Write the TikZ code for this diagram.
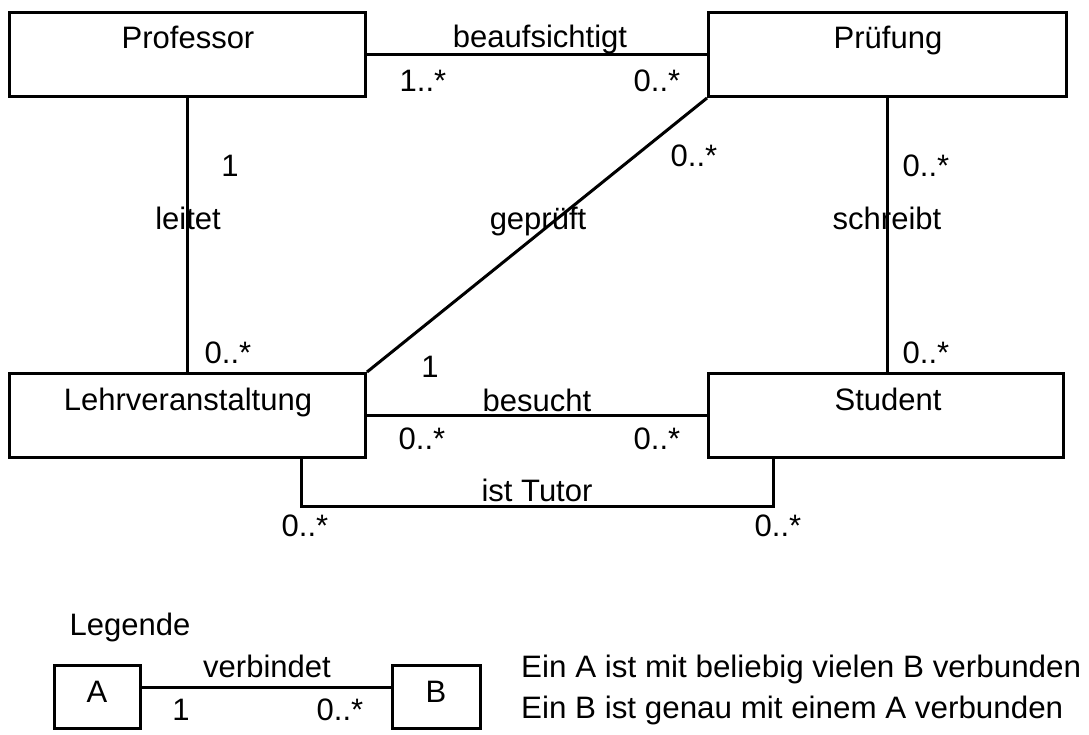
\documentclass[tikz,border=0pt]{standalone}
\usepackage{fontspec}
\setmainfont{Liberation Sans}
\begin{document}
\begin{tikzpicture}[x=1pt,y=-1pt,
  box/.style={draw, line width=3pt, inner sep=0pt},
  txt/.style={anchor=base, inner sep=0pt, font=\fontsize{31}{37}\selectfont},
  conn/.style={line width=3pt}]
\useasboundingbox (0,0) rectangle (1089,734);
% classes
\node[box, minimum width=356pt, minimum height=84pt] (prof) at (187.5,54.5) {};
\node[box, minimum width=358pt, minimum height=84pt] (pruef) at (887.5,54.5) {};
\node[box, minimum width=356pt, minimum height=84pt] (lehr) at (187.5,415.5) {};
\node[box, minimum width=355pt, minimum height=84pt] (stud) at (886,415.5) {};
\node[txt] (profT) at (188,48) {Professor};
\node[txt] (pruefT) at (888,48) {Prüfung};
\node[txt] (lehrT) at (188,410) {Lehrveranstaltung};
\node[txt] (studT) at (888,410) {Student};
% connectors
\draw[conn] (prof.east) -- (pruef.west);
\draw[conn] (prof.south) -- (prof.south |- lehr.north);
\draw[conn] (pruef.south west) -- (lehr.north east);
\draw[conn] (pruef.south) -- (pruef.south |- stud.north);
\draw[conn] (lehr.east) -- (stud.west);
\coordinate (tutL) at (301,506);
\coordinate (tutR) at (773,506);
\draw[conn] (lehr.south -| tutL) -- (tutL) -- (tutR) -- (stud.south -| tutR);
% labels
\node[txt] (l1) at (540,47) {beaufsichtigt};
\node[txt] (m1) at (423,91) {1..*};
\node[txt] (m2) at (657,91) {0..*};
\node[txt] (m3) at (230,176) {1};
\node[txt] (l2) at (188,229) {leitet};
\node[txt] (m4) at (228,363) {0..*};
\node[txt] (m5) at (694,166) {0..*};
\node[txt] (l3) at (538,229) {geprüft};
\node[txt] (m6) at (430,377) {1};
\node[txt] (m7) at (926,176) {0..*};
\node[txt] (l4) at (887,229) {schreibt};
\node[txt] (m8) at (926,363) {0..*};
\node[txt] (l5) at (537,411) {besucht};
\node[txt] (m9) at (422,449) {0..*};
\node[txt] (m10) at (657,449) {0..*};
\node[txt] (l6) at (537,501) {ist Tutor};
\node[txt] (m11) at (305,536) {0..*};
\node[txt] (m12) at (778,536) {0..*};
% legend
\node[txt] (leg) at (130,635) {Legende};
\node[box, minimum width=86pt, minimum height=63pt] (A) at (97.5,697) {};
\node[box, minimum width=88pt, minimum height=63pt] (B) at (436,697) {};
\node[txt] (AT) at (97,702) {A};
\node[txt] (BT) at (436,702) {B};
\draw[conn] (A.east |- 0,687) -- (B.west |- 0,687);
\node[txt] (l7) at (267,677) {verbindet};
\node[txt] (m13) at (181,720) {1};
\node[txt] (m14) at (340,720) {0..*};
\node[txt, anchor=base west] (e1) at (521,677) {\resizebox{560pt}{\height}{Ein A ist mit beliebig vielen B verbunden}};
\node[txt, anchor=base west] (e2) at (521,718) {\resizebox{542pt}{\height}{Ein B ist genau mit einem A verbunden}};
\end{tikzpicture}
\end{document}
